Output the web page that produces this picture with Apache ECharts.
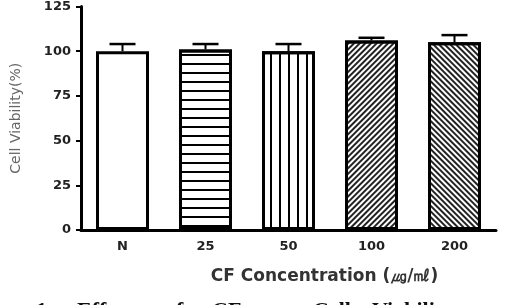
<!DOCTYPE html>
<html>
<head>
<meta charset="utf-8">
<script src="https://cdn.jsdelivr.net/npm/echarts@6/dist/echarts.min.js"></script>
<style>html,body{margin:0;padding:0;background:#fff}#c{width:520px;height:305px}</style>
</head>
<body>
<div id="c"></div>
<script>
var categories = ['N', '25', '50', '100', '200'];
var viability = [100, 101, 100, 106, 105];
var errors = [4, 3, 4, 1.5, 4];
var yTicks = [0, 25, 50, 75, 100, 125];
var captionWords = ['Fig.', '1.', 'Effect', 'of', 'CF', 'on', 'Cell', 'Viability'];
var captionX = [-22, 36, 77, 165, 212, 262, 313, 372];

var decals = [
  null,
  { symbol: 'rect', color: '#000', dashArrayX: [1, 0], dashArrayY: [2, 6.3], symbolSize: 1, rotation: 0 },
  { symbol: 'rect', color: '#000', dashArrayX: [2, 7], dashArrayY: [1, 0], symbolSize: 1, rotation: 0 },
  { symbol: 'rect', color: '#222', dashArrayX: [1, 0], dashArrayY: [1.6, 1.7], symbolSize: 1, rotation: -Math.PI / 4 },
  { symbol: 'rect', color: '#222', dashArrayX: [1, 0], dashArrayY: [1.6, 1.7], symbolSize: 1, rotation: Math.PI / 4 }
];

var barData = viability.map(function (v, i) {
  var it = { value: v, itemStyle: { color: '#fff', borderColor: '#000', borderWidth: 3 } };
  if (decals[i]) it.itemStyle.decal = decals[i];
  return it;
});

var errData = viability.map(function (v, i) { return [i, v, v + errors[i]]; });

var chart = echarts.init(document.getElementById('c'), null, { renderer: 'canvas' });
chart.setOption({
  animation: false,
  backgroundColor: '#fff',
  grid: { left: 81, right: 24, top: 5, bottom: 75, containLabel: false },
  xAxis: {
    type: 'category',
    data: categories,
    name: 'CF Concentration (㎍/㎖)',
    nameLocation: 'middle',
    nameGap: 38,
    nameTextStyle: { fontFamily: 'DejaVu Sans', fontWeight: 'bold', fontSize: 17, color: '#333', padding: [0, 0, 0, 72] },
    axisLine: { lineStyle: { color: '#000', width: 3 } },
    axisTick: { alignWithLabel: true, length: 5, lineStyle: { color: '#000', width: 2 } },
    axisLabel: { margin: 10, fontFamily: 'DejaVu Sans', fontWeight: 'bold', fontSize: 13, color: '#222' }
  },
  yAxis: {
    type: 'value',
    min: 0, max: 125, interval: 25,
    name: 'Cell Viability(%)',
    nameLocation: 'middle',
    nameGap: 58,
    nameTextStyle: { fontFamily: 'DejaVu Sans', fontSize: 14, color: '#666' },
    axisLine: { show: true, lineStyle: { color: '#000', width: 3 } },
    axisTick: { show: true, length: 5, lineStyle: { color: '#000', width: 2 } },
    splitLine: { show: false },
    axisLabel: {
      margin: 10, fontFamily: 'DejaVu Sans', fontWeight: 'bold', fontSize: 13, color: '#222',
      formatter: function (v) { return yTicks.indexOf(v) >= 0 ? String(v) : ''; }
    }
  },
  series: [
    {
      type: 'bar',
      data: barData,
      barWidth: 53,
      z: 2
    },
    {
      type: 'custom',
      data: errData,
      z: 3,
      renderItem: function (params, api) {
        var x = api.value(0);
        var p0 = api.coord([x, api.value(1)]);
        var p1 = api.coord([x, api.value(2)]);
        var half = 13;
        return {
          type: 'group',
          children: [
            { type: 'line', shape: { x1: p0[0], y1: p0[1], x2: p1[0], y2: p1[1] }, style: { stroke: '#000', lineWidth: 2 } },
            { type: 'line', shape: { x1: p1[0] - half, y1: p1[1], x2: p1[0] + half, y2: p1[1] }, style: { stroke: '#000', lineWidth: 2.5 } }
          ]
        };
      }
    }
  ],
  graphic: captionWords.map(function (w, i) {
    return {
      type: 'text', left: captionX[i], top: 300.5,
      style: { text: w, font: 'bold 22px "Liberation Serif"', fill: '#111' }
    };
  })
});
</script>
</body>
</html>
